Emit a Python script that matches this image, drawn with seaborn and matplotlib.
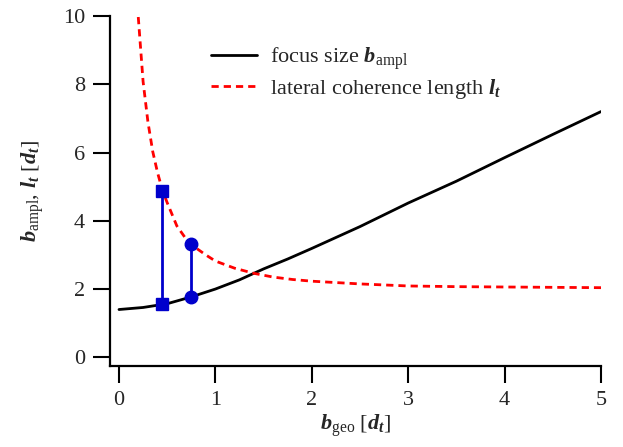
import matplotlib
matplotlib.use('Agg')
import matplotlib.pyplot as plt
import seaborn as sns
import pandas as pd

# focus size b_ampl (black solid)
focus_x = [0, 0.25, 0.5, 0.75, 1.0, 1.25, 1.5, 1.75, 2.0, 2.5, 3.0, 3.5, 4.0, 4.5, 5.0]
focus_y = [1.40, 1.46, 1.57, 1.77, 2.00, 2.27, 2.59, 2.88, 3.19, 3.83, 4.52, 5.16, 5.85, 6.53, 7.20]

# lateral coherence length l_t (red dashed)
coh_x = [0.2, 0.25, 0.3, 0.35, 0.4, 0.45, 0.5, 0.6, 0.7, 0.8, 0.9, 1.0, 1.2, 1.4,
         1.6, 1.8, 2.0, 2.5, 3.0, 3.5, 4.0, 4.5, 5.0]
coh_y = [9.97, 8.08, 6.90, 6.03, 5.41, 4.90, 4.53, 3.85, 3.45, 3.20, 3.00, 2.82, 2.61, 2.46,
         2.35, 2.28, 2.23, 2.15, 2.09, 2.07, 2.06, 2.05, 2.04]

# blue markers: squares and circles joined by vertical lines
sq_x = [0.45, 0.45]
sq_y = [4.87, 1.55]
circ_x = [0.75, 0.75]
circ_y = [3.31, 1.77]

sns.set_style('ticks')
plt.rcParams['font.family'] = ['Liberation Serif', 'DejaVu Serif']
plt.rcParams['mathtext.fontset'] = 'custom'
plt.rcParams['mathtext.rm'] = 'Liberation Serif'
plt.rcParams['mathtext.it'] = 'Liberation Serif:italic'
plt.rcParams['mathtext.bf'] = 'Liberation Serif:bold'
plt.rcParams['mathtext.bfit'] = 'Liberation Serif:italic:bold'

fig = plt.figure(figsize=(6.23, 4.47), dpi=100)
ax = fig.add_axes([0.1766, 0.1812, 0.7881, 0.7830])

focus = pd.DataFrame({'x': focus_x, 'y': focus_y})
coh = pd.DataFrame({'x': coh_x, 'y': coh_y})

sns.lineplot(data=focus, x='x', y='y', ax=ax, color='black', lw=2.0,
             label=r'focus size $\mathbfit{b}_\mathrm{ampl}$')
sns.lineplot(data=coh, x='x', y='y', ax=ax, color='#ff0000', lw=2.0,
             label=r'lateral coherence length $\mathbfit{l}_\mathbfit{t}$')
ax.lines[-1].set_dashes((2.6, 1.8))

ax.plot(sq_x, sq_y, color='#0000cc', lw=2.0, marker='s', ms=9)
ax.plot(circ_x, circ_y, color='#0000cc', lw=2.0, marker='o', ms=9)

ax.set_xlim(-0.093, 5)
ax.set_ylim(-0.255, 10)
ax.set_xticks([0, 1, 2, 3, 4, 5])
ax.set_yticks([0, 2, 4, 6, 8, 10])
ax.tick_params(labelsize=16, length=12, width=1.5, pad=6, direction='out', color='black')
for s in ['left', 'bottom']:
    ax.spines[s].set_linewidth(1.6)
    ax.spines[s].set_color('black')
sns.despine(ax=ax)

ax.set_xlabel(r'$\mathbfit{b}_\mathrm{geo}$ [$\mathbfit{d}_\mathbfit{t}$]', fontsize=16, labelpad=2)
ax.set_ylabel(r'$\mathbfit{b}_\mathrm{ampl}$, $\mathbfit{l}_\mathbfit{t}$ [$\mathbfit{d}_\mathbfit{t}$]',
              fontsize=16, labelpad=12)

leg = ax.legend(loc='upper left', bbox_to_anchor=(0.205, 0.915), frameon=False, fontsize=16,
                handlelength=2.1, handletextpad=0.55, labelspacing=0.2, borderpad=0,
                borderaxespad=0)
leg.get_lines()[1].set_dashes((2.6, 1.8))

fig.savefig('out.png', dpi=100)
